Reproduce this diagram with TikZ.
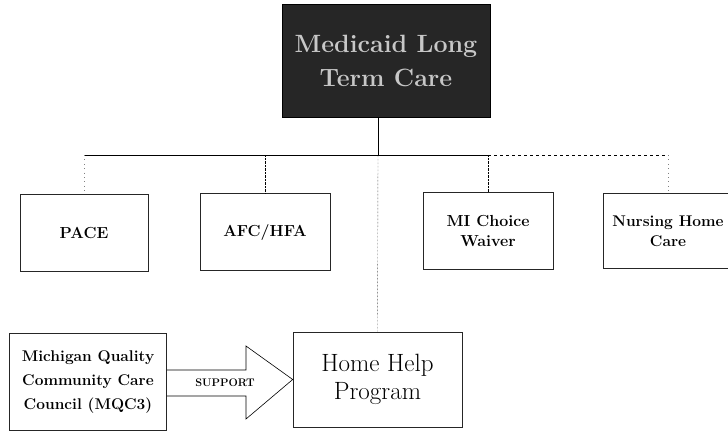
\documentclass[tikz,border=0pt]{standalone}
\usepackage{fontspec}
\usepackage{amsmath}
\usetikzlibrary{arrows,calc}
\tikzset{
	prog/.style={
			draw=black!85, line width=0.6pt, align=center,
			minimum width=130pt, minimum height=77pt,
			font=\fontsize{16}{20}\selectfont\bfseries
		}
}

\begin{document}
\begin{tikzpicture}[x=1pt,y=-1pt]
			\useasboundingbox (0,0) rectangle (728,431);
			% head box
			\node[draw=black, fill=black!85, text=black!22, align=center,
				minimum width=208pt, minimum height=113pt,
				font=\fontsize{25}{34}\selectfont\bfseries] (ltc) at (386,61) {Medicaid Long\\Term Care};
			% programs
			\node[prog, minimum width=128pt] (pace) at (84,233) {PACE};
			\node[prog] (afc) at (265,232) {AFC/HFA};
			\node[prog] (mich) at (488,231) {MI Choice\\Waiver};
			\node[prog, minimum height=75pt, font=\fontsize{15.5}{20}\selectfont\bfseries] (nurs) at (668,231) {Nursing Home\\Care};
			\node[draw=black!85, line width=0.6pt, align=center, minimum width=169pt, minimum height=95pt,
				font=\fontsize{25}{28}\selectfont] (home) at (377.5,379.5) {Home Help\\Program};
			\node[draw=black!85, line width=0.6pt, align=center, minimum width=157pt, minimum height=97pt,
				font=\fontsize{15.5}{24}\selectfont\bfseries] (mqc) at (88,382) {Michigan Quality\\Community Care\\Council (MQC3)};
			% bus
			\coordinate (bus) at (378,155);
			\draw[line width=0.6pt] (ltc.south -| bus) -- (bus);
			\draw[line width=0.6pt] (pace.north |- bus) -- (mich.north |- bus);
			\draw[line width=0.6pt, dashed] (mich.north |- bus) -- (nurs.north |- bus);
			\draw[black!50, loosely dotted] (pace.north |- bus) -- (pace.north);
			\draw[black!50, loosely dotted] (nurs.north |- bus) -- (nurs.north);
			\draw[densely dotted] (afc.north |- bus) -- (afc.north);
			\draw[densely dotted] (mich.north |- bus) -- (mich.north);
			\draw[densely dotted] (bus) -- (home.north);
			% support arrow
			\draw[line width=0.6pt] ($(mqc.east)+(0,-12)$) -- (246,370) -- (246,346) -- (home.west)
				-- (246,419) -- (246,396) -- ($(mqc.east)+(0,14)$);
			\node[font=\fontsize{11}{13}\selectfont\bfseries] (sup) at (225,383) {SUPPORT};
		\end{tikzpicture}
\end{document}
